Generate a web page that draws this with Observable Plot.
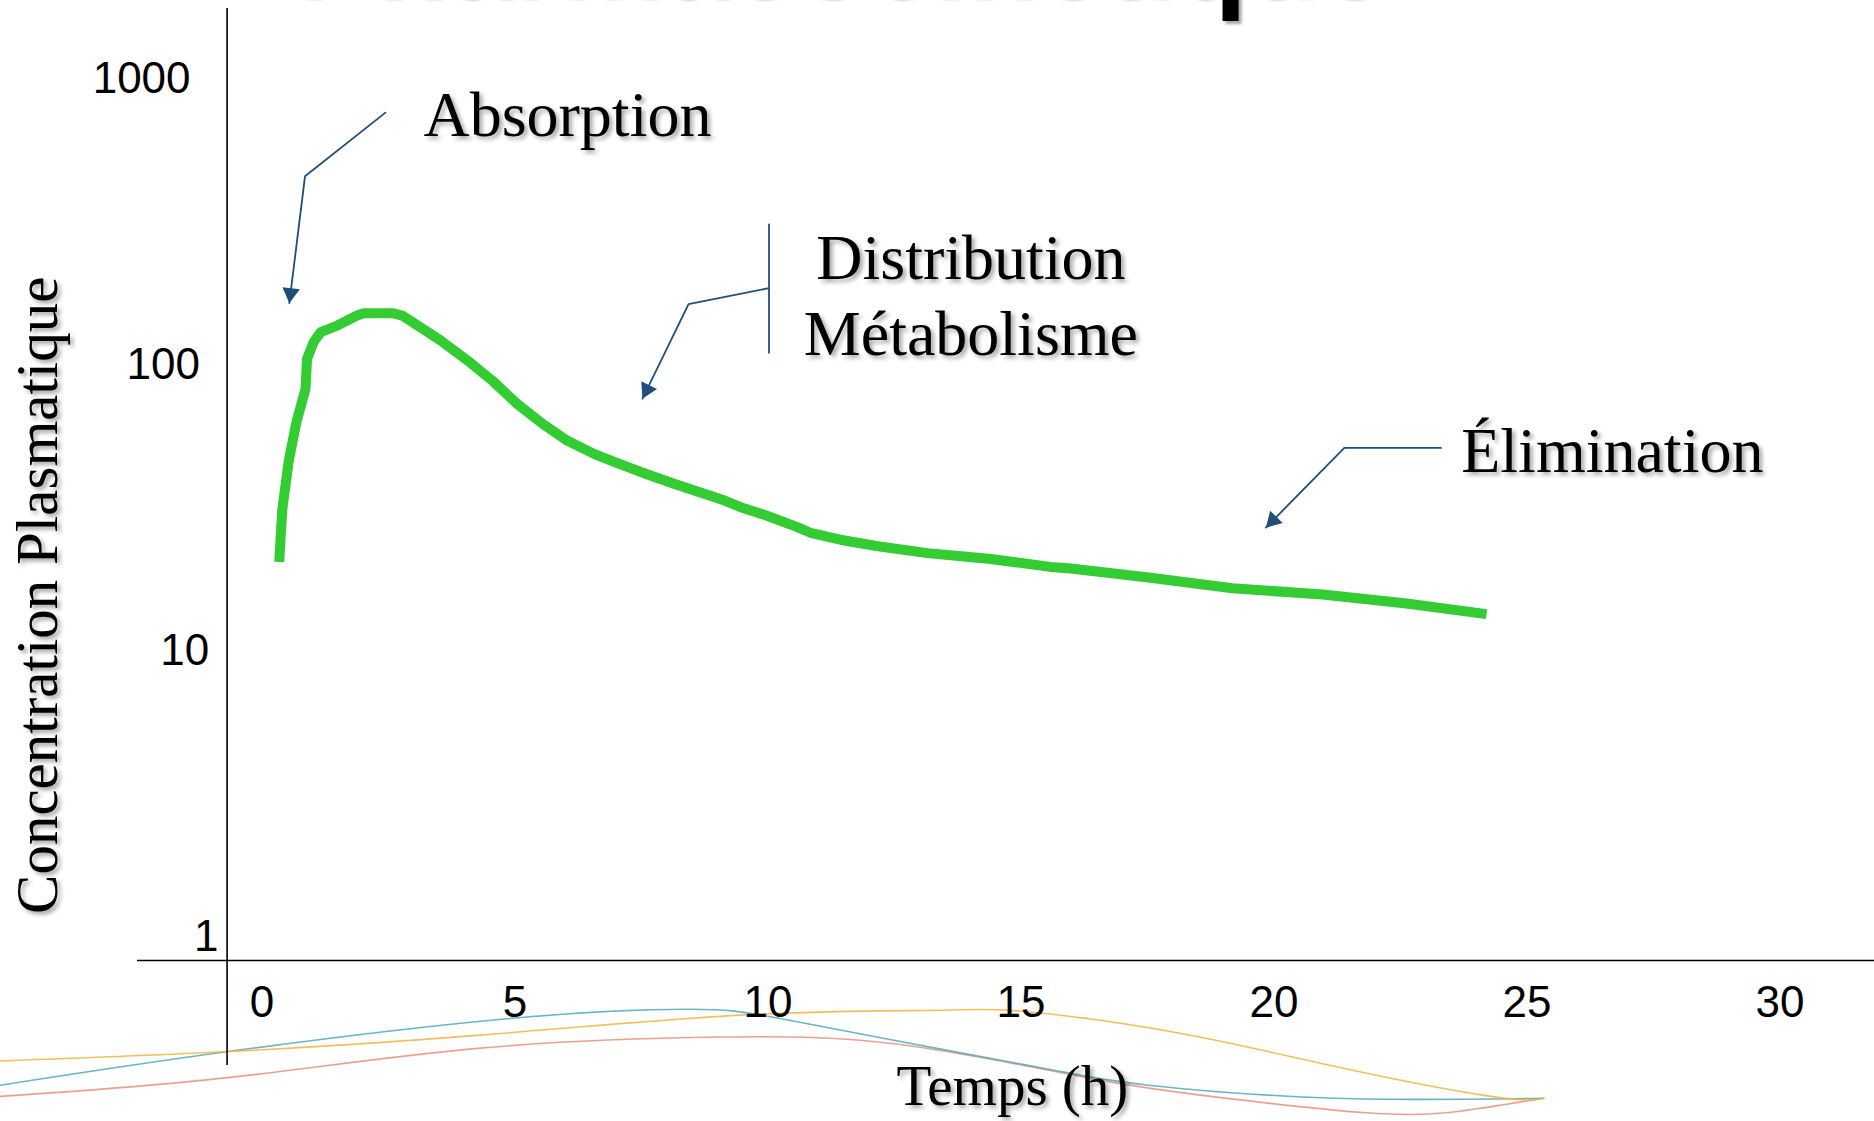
<!DOCTYPE html>
<html>
<head>
<meta charset="utf-8">
<script src="https://cdn.jsdelivr.net/npm/d3@7"></script>
<script src="https://cdn.jsdelivr.net/npm/@observablehq/plot@0.6"></script>
<style>
  html, body { margin: 0; padding: 0; background: #fff; overflow: hidden; }
  #wrap { position: relative; width: 1874px; height: 1121px; overflow: hidden; }
  #chart { position: absolute; left: 0; top: 0; }
  #title { position: absolute; left: 296px; top: -104px; z-index: 2; font: bold 118px "Liberation Sans", Arial, sans-serif; line-height: 1; white-space: nowrap; color: #000; text-shadow: 3px 3px 3px rgba(0,0,0,0.35); }
</style>
</head>
<body>
<div id="wrap">
  <div id="chart"></div>
  <div id="title">Pharmacocinétique</div>
</div>
<script>
// ---- data (time in hours, plasma concentration) ----
const timeH = [0.34,0.40,0.53,0.68,0.86,0.89,1.02,1.16,1.49,1.88,2.01,2.60,2.77,3.13,3.53,4.06,4.55,5.04,5.54,6.03,6.56,7.05,7.58,8.14,9.13,9.46,9.98,10.58,10.84,11.43,12.14,13.15,13.77,14.40,15.58,15.94,17.52,19.18,20.96,22.62,24.20];
const concentration = [20.4,31.0,46.2,62.8,82.2,104.7,119.7,129.7,136.8,148.3,151.0,151.0,148.3,135.0,121.3,103.3,87.9,72.9,62.1,54.2,48.7,45.0,41.5,38.3,33.5,31.7,29.6,27.0,25.8,24.4,23.2,21.9,21.4,20.9,19.6,19.4,18.0,16.5,15.7,14.6,13.4];

// tick labels
const xTicks = [0, 5, 10, 15, 20, 25, 30];
const yTicks = [1, 10, 100, 1000];

// axis titles & phase labels
const xTitle = "Temps (h)";
const yTitle = "Concentration Plasmatique";
const leftLabels = ["Absorption", "Élimination"];
const leftLabelT = [3.19, 23.70];
const leftLabelC = [745, 49.8];
const centerLabels = ["Distribution", "Métabolisme"];
const centerLabelT = [14.01, 14.01];
const centerLabelC = [234, 126.8];

// annotation arrows (hours, concentration)
const arrowAbsorption = [[2.44, 760], [0.85, 455], [0.54, 163.8]];
const arrowDistribution = [[10.02, 185], [8.43, 162.6], [7.52, 76.0]];
const bracketDistribution = [[10.02, 309], [10.02, 110]];
const arrowElimination = [[23.30, 51.1], [21.39, 51.1], [19.84, 26.9]];

// drawn axis lines (hours / concentration units)
const yAxisAtT = -0.69, yAxisFromC = 0.354, yAxisToC = 1757;
const xAxisAtC = 0.824, xAxisFromT = -2.46, xAxisToT = 31.87;
// y tick labels: right edge (hours) at value 1, and lean per decade
const yLabelRightT = -0.86, yLabelLean = 0.184;

// decorative background waves
const waveTealT = [-5.17,-0.67,4.90,8.46,10.24,13.31,15.68,17.52,21.21,25.33];
const waveTealC = [0.302,0.396,0.517,0.557,0.517,0.407,0.340,0.302,0.272,0.272];
const waveOrangeT = [-5.17,-0.67,4.31,9.64,13.31,15.07,18.14,21.21,24.28,25.33];
const waveOrangeC = [0.367,0.396,0.452,0.533,0.552,0.547,0.459,0.351,0.276,0.272];
const waveRedT = [-5.17,-0.67,4.31,9.05,12.62,16.29,18.75,21.82,23.67,25.33];
const waveRedC = [0.276,0.321,0.407,0.445,0.419,0.321,0.276,0.242,0.245,0.272];

// ---- build ----
const curve = timeH.map((t, i) => ({t, c: concentration[i]}));
const wave = (T, C, name) => T.map((t, i) => ({t, c: C[i], name}));
const waves = [
  ...wave(waveRedT, waveRedC, "wave A"),
  ...wave(waveTealT, waveTealC, "wave B"),
  ...wave(waveOrangeT, waveOrangeC, "wave C")
];
const lblLeft = leftLabels.map((text, i) => ({text, t: leftLabelT[i], c: leftLabelC[i]}));
const lblCenter = centerLabels.map((text, i) => ({text, t: centerLabelT[i], c: centerLabelC[i]}));
const arrows = [arrowAbsorption, arrowDistribution, arrowElimination];
const arrowPts = arrows.flatMap((a, k) => a.map(([t, c]) => ({t, c, k})));
const bracket = bracketDistribution.map(([t, c]) => ({t, c}));

const xOpts = {domain: [0, 30], range: [261.5, 1779.5]};
const yOpts = {type: "log", domain: [1, 1000], range: [936, 78]};
const X = Plot.scale({x: xOpts});
const Y = Plot.scale({y: yOpts});

const heads = arrows.map(a => {
  const p = a[a.length - 2], q = a[a.length - 1];
  const ax = X.apply(p[0]), ay = Y.apply(p[1]), bx = X.apply(q[0]), by = Y.apply(q[1]);
  const L = Math.hypot(bx - ax, by - ay), ux = (bx - ax) / L, uy = (by - ay) / L;
  const cx = bx - ux * 10, cy = by - uy * 10;
  return {t: X.invert(cx), c: Y.invert(cy), angle: Math.atan2(ux, -uy) * 180 / Math.PI};
});

const serif = "Liberation Serif, Times New Roman, serif";
const sans = "Liberation Sans, Arial, sans-serif";
const arrowColor = "#1F4E7A";

const plot = Plot.plot({
  width: 1874,
  height: 1121,
  margin: 0,
  x: {...xOpts, axis: null},
  y: {...yOpts, axis: null},
  color: {domain: ["wave A", "wave B", "wave C"], range: ["#E8907F", "#4FA9B8", "#F2B33D"]},
  style: {background: "transparent", overflow: "visible"},
  marks: [
    Plot.line(waves, {x: "t", y: "c", z: "name", stroke: "name", curve: "natural", strokeWidth: 1.6, strokeOpacity: 0.85}),
    Plot.ruleX([yAxisAtT], {y1: yAxisFromC, y2: yAxisToC, stroke: "black", strokeWidth: 1.6}),
    Plot.ruleY([xAxisAtC], {x1: xAxisFromT, x2: xAxisToT, stroke: "black", strokeWidth: 1.6}),
    Plot.text(xTicks, {x: d => d, y: () => 1, dy: 66, text: d => String(d), fontFamily: sans, fontSize: 44, fill: "black", textAnchor: "middle"}),
    Plot.text(yTicks, {x: d => yLabelRightT - yLabelLean * Math.log10(d), y: d => d, text: d => String(d), fontFamily: sans, fontSize: 44, fill: "black", textAnchor: "end"}),
    Plot.line(curve, {x: "t", y: "c", stroke: "#33CC33", strokeWidth: 10, strokeLinecap: "butt", strokeLinejoin: "round"}),
    Plot.line(arrowPts, {x: "t", y: "c", z: "k", stroke: arrowColor, strokeWidth: 1.8}),
    Plot.line(bracket, {x: "t", y: "c", stroke: arrowColor, strokeWidth: 1.8}),
    Plot.dot(heads, {x: "t", y: "c", symbol: "triangle", r: 6.5, fill: arrowColor, stroke: "none", rotate: "angle"}),
    Plot.text(lblLeft, {x: "t", y: "c", text: "text", textAnchor: "start", fontFamily: serif, fontSize: 64, fill: "black"}),
    Plot.text(lblCenter, {x: "t", y: "c", text: "text", textAnchor: "middle", fontFamily: serif, fontSize: 64, fill: "black"}),
    Plot.text([xTitle], {x: () => 14.83, y: () => 0.298, text: d => d, fontFamily: serif, fontSize: 57, fill: "black"}),
    Plot.text([yTitle], {x: () => -4.42, y: () => 15.6, text: d => d, rotate: -90, fontFamily: serif, fontSize: 59, fill: "black"})
  ]
});

const svgSel = d3.select(plot);
const defs = svgSel.insert("defs", ":first-child");
const f = defs.append("filter").attr("id", "tshadow").attr("x", "-5%").attr("y", "-20%").attr("width", "115%").attr("height", "150%");
f.append("feDropShadow").attr("dx", 3).attr("dy", 3).attr("stdDeviation", 2).attr("flood-color", "#000").attr("flood-opacity", 0.35);
svgSel.selectAll("g").filter(function() {
  return (this.getAttribute("font-family") || "").includes("Serif");
}).attr("filter", "url(#tshadow)");

document.getElementById("chart").appendChild(plot);
</script>
</body>
</html>
